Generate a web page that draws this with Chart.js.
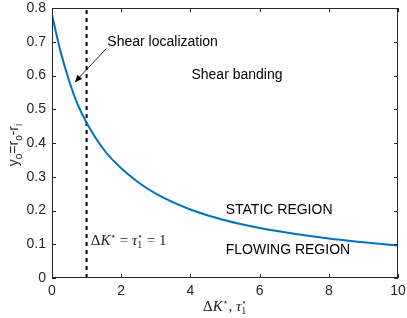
<!DOCTYPE html>
<html>
<head>
<meta charset="utf-8">
<script src="https://cdn.jsdelivr.net/npm/chart.js@4.4.0/dist/chart.umd.min.js"></script>
<style>
  html, body { margin: 0; padding: 0; background: #fff; }
  #wrap { width: 407px; height: 318px; position: relative; }
</style>
</head>
<body>
<div id="wrap"><canvas id="chart"></canvas></div>
<script>
// values
const xVals = [0, 0.25, 0.5, 0.75, 1, 1.5, 2, 2.5, 3, 4, 5, 6, 7, 8, 9, 10];
const yVals = [0.78, 0.67, 0.583, 0.512, 0.46, 0.38, 0.325, 0.283, 0.25, 0.203, 0.171, 0.148, 0.131, 0.117, 0.106, 0.096];
const thresholdX = 1;
const xTicks = [0, 2, 4, 6, 8, 10];
const yTicks = [0, 0.1, 0.2, 0.3, 0.4, 0.5, 0.6, 0.7, 0.8];

const SANS = '"Liberation Sans", Arial, sans-serif';
const SERIF = '"Liberation Serif", "DejaVu Serif", serif';
const INK = '#262626';

// rich text: parts = [{t, f, dy, stack}]
function richWidth(ctx, parts) {
  let w = 0, last = 0;
  parts.forEach(p => {
    ctx.font = p.f;
    const pw = ctx.measureText(p.t).width;
    if (p.stack) { w = w - last + Math.max(last, pw); last = Math.max(last, pw); }
    else { w += pw; last = pw; }
  });
  return w;
}
function drawRich(ctx, x, y, parts) {
  let cx = x, prevX = x, last = 0;
  parts.forEach(p => {
    ctx.font = p.f;
    const pw = ctx.measureText(p.t).width;
    if (p.stack) {
      ctx.fillText(p.t, prevX, y + (p.dy || 0));
      cx = prevX + Math.max(last, pw);
    } else {
      ctx.fillText(p.t, cx, y + (p.dy || 0));
      prevX = cx; last = pw; cx += pw;
    }
  });
}

const star = '\u22C6';
const fBig = '15px ' + SERIF;
const fIt = 'italic 15px ' + SERIF;
const fSmall = '10px ' + SERIF;
const fStar = '9px "DejaVu Sans", sans-serif';

const xTitleParts = [
  { t: 'Δ', f: fBig }, { t: 'K', f: fIt }, { t: star, f: fStar, dy: -6 },
  { t: ', ', f: fBig }, { t: 'τ', f: fIt }, { t: '1', f: fSmall, dy: 3 },
  { t: star, f: fStar, dy: -6, stack: true }
];
const thrParts = [
  { t: 'Δ', f: fBig }, { t: 'K', f: fIt }, { t: star, f: fStar, dy: -6 },
  { t: ' = ', f: fBig }, { t: 'τ', f: fIt }, { t: '1', f: fSmall, dy: 3 },
  { t: star, f: fStar, dy: -6, stack: true }, { t: ' = 1', f: fBig }
];
const yTitleParts = [
  { t: 'y', f: '14px ' + SANS }, { t: 'o', f: '10px ' + SANS, dy: 4 },
  { t: '=r', f: '14px ' + SANS }, { t: 'o', f: '10px ' + SANS, dy: 4 },
  { t: '-r', f: '14px ' + SANS }, { t: 'i', f: '10px ' + SANS, dy: 4 }
];

const decor = {
  id: 'decor',
  afterDraw(chart) {
    const ctx = chart.ctx, a = chart.chartArea;
    const xs = chart.scales.x, ys = chart.scales.y;
    ctx.save();
    // box
    ctx.strokeStyle = INK;
    ctx.lineWidth = 1;
    ctx.strokeRect(Math.round(a.left) + 0.5, Math.round(a.top) + 0.5,
      Math.round(a.right - a.left) - 1, Math.round(a.bottom - a.top) - 1);
    // inward ticks on all sides
    ctx.beginPath();
    xTicks.forEach(v => {
      const px = Math.round(xs.getPixelForValue(v)) + 0.5;
      ctx.moveTo(px, a.bottom); ctx.lineTo(px, a.bottom - 4);
      ctx.moveTo(px, a.top); ctx.lineTo(px, a.top + 4);
    });
    yTicks.forEach(v => {
      const py = Math.round(ys.getPixelForValue(v)) + 0.5;
      ctx.moveTo(a.left, py); ctx.lineTo(a.left + 4, py);
      ctx.moveTo(a.right, py); ctx.lineTo(a.right - 4, py);
    });
    ctx.stroke();

    // text labels
    ctx.fillStyle = '#000';
    ctx.textBaseline = 'middle';
    ctx.textAlign = 'left';
    ctx.font = '14px ' + SANS;
    ctx.fillText('Shear localization', xs.getPixelForValue(1.6), ys.getPixelForValue(0.698));
    ctx.fillText('Shear banding', xs.getPixelForValue(4.03), ys.getPixelForValue(0.60));
    ctx.fillText('STATIC REGION', xs.getPixelForValue(5.02), ys.getPixelForValue(0.20));
    ctx.fillText('FLOWING REGION', xs.getPixelForValue(5.02), ys.getPixelForValue(0.083));

    // arrow
    const x0 = xs.getPixelForValue(1.57), y0 = ys.getPixelForValue(0.68);
    const x1 = xs.getPixelForValue(0.66), y1 = ys.getPixelForValue(0.58);
    const ang = Math.atan2(y1 - y0, x1 - x0);
    ctx.strokeStyle = '#000';
    ctx.lineWidth = 0.8;
    ctx.beginPath(); ctx.moveTo(x0, y0); ctx.lineTo(x1, y1); ctx.stroke();
    ctx.beginPath();
    ctx.moveTo(x1, y1);
    ctx.lineTo(x1 - 8 * Math.cos(ang - 0.4), y1 - 8 * Math.sin(ang - 0.4));
    ctx.lineTo(x1 - 8 * Math.cos(ang + 0.4), y1 - 8 * Math.sin(ang + 0.4));
    ctx.closePath();
    ctx.fillStyle = '#000';
    ctx.fill();

    // math labels
    ctx.textBaseline = 'alphabetic';
    ctx.fillStyle = '#222';
    drawRich(ctx, xs.getPixelForValue(1.12), ys.getPixelForValue(0.112) + 5, thrParts);
    const w = richWidth(ctx, xTitleParts);
    drawRich(ctx, (a.left + a.right) / 2 - w / 2, 311, xTitleParts);

    // y title, rotated
    ctx.fillStyle = INK;
    ctx.translate(18, 145);
    ctx.rotate(-Math.PI / 2);
    const wy = richWidth(ctx, yTitleParts);
    drawRich(ctx, -wy / 2, 0, yTitleParts);
    ctx.restore();
  }
};

new Chart(document.getElementById('chart'), {
  type: 'line',
  data: {
    datasets: [
      {
        data: xVals.map((x, i) => ({ x, y: yVals[i] })),
        borderColor: '#0072BD',
        borderWidth: 2,
        pointRadius: 0,
        cubicInterpolationMode: 'monotone'
      },
      {
        data: [{ x: thresholdX, y: 0 }, { x: thresholdX, y: 0.8 }],
        borderColor: '#000',
        borderWidth: 2,
        borderDash: [4, 4],
        pointRadius: 0
      }
    ]
  },
  options: {
    responsive: true,
    maintainAspectRatio: false,
    animation: false,
    events: [],
    layout: { padding: { top: 8, right: 9, left: 0, bottom: 0 } },
    plugins: { legend: { display: false }, tooltip: { enabled: false } },
    scales: {
      x: {
        type: 'linear', min: 0, max: 10,
        afterBuildTicks: s => { s.ticks = xTicks.map(v => ({ value: v })); },
        afterFit: s => { s.height = 40; s.paddingLeft = 0; s.paddingRight = 0; },
        grid: { display: false, drawTicks: false },
        border: { display: false },
        ticks: { color: INK, padding: 5, font: { family: SANS, size: 14 }, maxRotation: 0 }
      },
      y: {
        min: 0, max: 0.8,
        afterBuildTicks: s => { s.ticks = yTicks.map(v => ({ value: v })); },
        afterFit: s => { s.width = 52; s.paddingTop = 0; s.paddingBottom = 0; },
        grid: { display: false, drawTicks: false },
        border: { display: false },
        ticks: { color: INK, padding: 6, font: { family: SANS, size: 14 },
          callback: v => String(Math.round(v * 10) / 10) }
      }
    }
  },
  plugins: [decor]
});
</script>
</body>
</html>
